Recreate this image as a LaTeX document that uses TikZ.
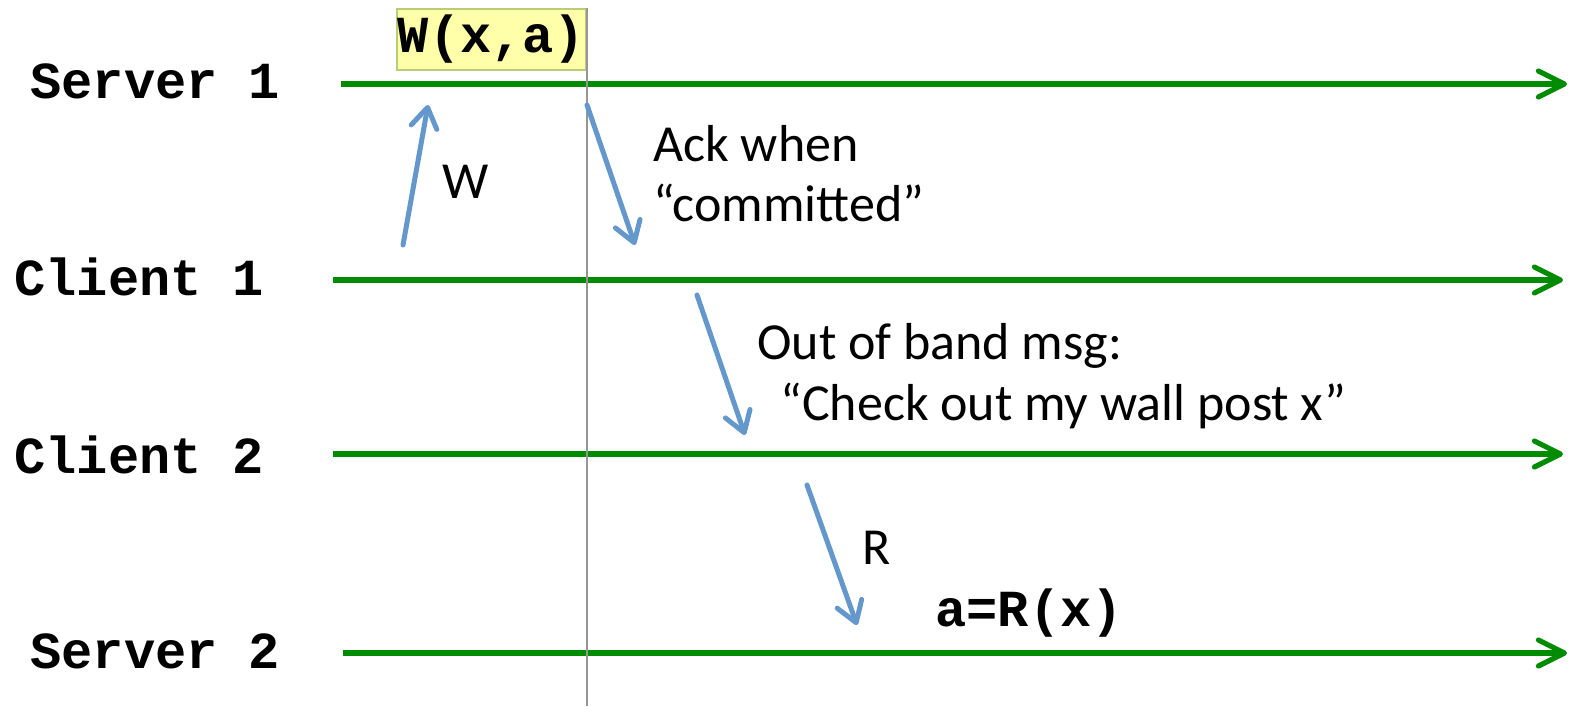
\documentclass[tikz,border=0pt]{standalone}
\usepackage{fontspec}
\setmainfont{Carlito}
\setmonofont{Liberation Mono}
\usetikzlibrary{positioning,arrows.meta}
\definecolor{lanegreen}{RGB}{0,140,0}
\definecolor{msgblue}{RGB}{100,152,204}
\definecolor{notefill}{RGB}{255,255,170}
\definecolor{noteedge}{RGB}{185,205,120}
\definecolor{cutgray}{RGB}{150,150,150}

\begin{document}
\begin{tikzpicture}[
  x=0.5pt, y=-0.5pt,
  proc/.style={anchor=base west, inner sep=0pt, font=\fontsize{26}{30}\selectfont\ttfamily\bfseries},
  txt/.style={anchor=base west, inner sep=0pt, font=\fontsize{26}{30}\selectfont},
  lane/.style={draw=lanegreen, line width=2.6pt, -{Straight Barb[length=13pt,width=13pt,round]}},
  msg/.style={draw=msgblue, line width=2.5pt, line cap=round, -{Straight Barb[length=10pt,width=13pt,round]}},
  note/.style={draw=noteedge, fill=notefill, line width=1pt, inner sep=0pt, minimum width=94.5pt, minimum height=30.5pt, font=\fontsize{26}{30}\selectfont\ttfamily\bfseries}
]
\useasboundingbox (0,0) rectangle (1572,706);

% process names
\node[proc] (srv1) at (30,98) {Server 1};
\node[proc] (cli1) at (14,295) {Client 1};
\node[proc] (cli2) at (14,473) {Client 2};
\node[proc] (srv2) at (30,668) {Server 2};

% time lines
\coordinate (srv1w) at (341,84);  \coordinate (srv1e) at (1567,84);
\coordinate (cli1w) at (333,280); \coordinate (cli1e) at (1563,280);
\coordinate (cli2w) at (333,454); \coordinate (cli2e) at (1563,454);
\coordinate (srv2w) at (343,653); \coordinate (srv2e) at (1567,653);
\draw[lane] (srv1w) -- (srv1e);
\draw[lane] (cli1w) -- (cli1e);
\draw[lane] (cli2w) -- (cli2e);
\draw[lane] (srv2w) -- (srv2e);

% the write
\node[note] (wxa) at (491.5,39.5) {W(x,a)};
\draw[cutgray, line width=1.1pt] (wxa.north east) -- (wxa.north east |- 0,706);

% messages
\coordinate (w0) at (403,245);  \coordinate (w1) at (428,105);
\coordinate (ack0) at (587,105); \coordinate (ack1) at (635,245);
\coordinate (oob0) at (697,295); \coordinate (oob1) at (745,435);
\coordinate (r0) at (807,485);  \coordinate (r1) at (857,625);
\draw[msg] (w0) -- (w1);
\draw[msg] (ack0) -- (ack1);
\draw[msg] (oob0) -- (oob1);
\draw[msg] (r0) -- (r1);

% labels
\node[txt] (wlbl) at (442,198) {W};
\node[txt] (ackA) at (653,162) {Ack when};
\node[txt] (ackB) at (653,221) {“committed”};
\node[txt] (oobA) at (757,359) {Out of band msg:};
\node[txt] (oobB) at (780,420) {“Check out my wall post x”};
\node[txt] (rlbl) at (862,564) {R};
\node[proc] (read) at (935,626) {a=R(x)};
\end{tikzpicture}
\end{document}
